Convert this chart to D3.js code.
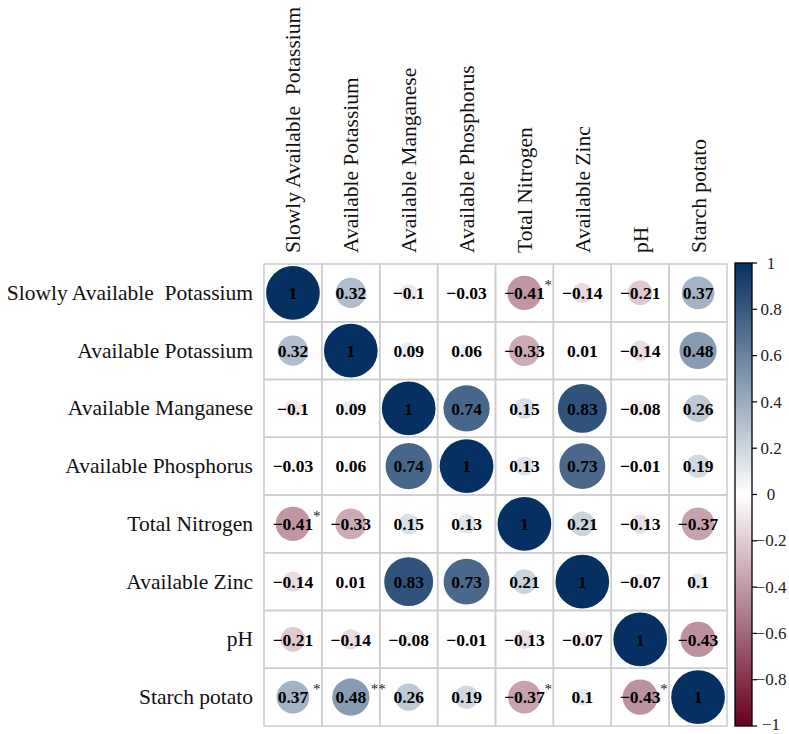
<!DOCTYPE html>
<html>
<head>
<meta charset="utf-8">
<script src="https://cdn.jsdelivr.net/npm/d3@7"></script>
<style>
  html, body { margin: 0; padding: 0; background: #fff; }
  svg { display: block; }
  text { font-family: "Liberation Serif", "Times New Roman", serif; }
</style>
</head>
<body>
<svg id="chart" width="789" height="734"></svg>
<script>
const variables = [
  "Slowly Available  Potassium",
  "Available Potassium",
  "Available Manganese",
  "Available Phosphorus",
  "Total Nitrogen",
  "Available Zinc",
  "pH",
  "Starch potato"
];
const corrSAK    = [1, 0.32, -0.1, -0.03, -0.41, -0.14, -0.21, 0.37];
const corrAK     = [0.32, 1, 0.09, 0.06, -0.33, 0.01, -0.14, 0.48];
const corrMn     = [-0.1, 0.09, 1, 0.74, 0.15, 0.83, -0.08, 0.26];
const corrP      = [-0.03, 0.06, 0.74, 1, 0.13, 0.73, -0.01, 0.19];
const corrTN     = [-0.41, -0.33, 0.15, 0.13, 1, 0.21, -0.13, -0.37];
const corrZn     = [-0.14, 0.01, 0.83, 0.73, 0.21, 1, -0.07, 0.1];
const corrPH     = [-0.21, -0.14, -0.08, -0.01, -0.13, -0.07, 1, -0.43];
const corrStarch = [0.37, 0.48, 0.26, 0.19, -0.37, 0.1, -0.43, 1];
const corrRows = [corrSAK, corrAK, corrMn, corrP, corrTN, corrZn, corrPH, corrStarch];

const starsSAK    = ["", "", "", "", "*", "", "", ""];
const starsAK     = ["", "", "", "", "", "", "", ""];
const starsMn     = ["", "", "", "", "", "", "", ""];
const starsP      = ["", "", "", "", "", "", "", ""];
const starsTN     = ["*", "", "", "", "", "", "", ""];
const starsZn     = ["", "", "", "", "", "", "", ""];
const starsPH     = ["", "", "", "", "", "", "", ""];
const starsStarch = ["*", "**", "", "", "*", "", "*", ""];
const starRows = [starsSAK, starsAK, starsMn, starsP, starsTN, starsZn, starsPH, starsStarch];

const colorbarTicks = [1, 0.8, 0.6, 0.4, 0.2, 0, -0.2, -0.4, -0.6, -0.8, -1];

const svg = d3.select("#chart");

const x = d3.scaleBand().domain(d3.range(variables.length)).range([264, 727]);
const y = d3.scaleBand().domain(d3.range(variables.length)).range([264, 726]);
const color = d3.scaleLinear().domain([-1, 0, 1]).range(["#67001F", "#FFFFFF", "#053061"]);
const rScale = d3.scaleSqrt().domain([0, 1]).range([0, 0.465 * Math.min(x.bandwidth(), y.bandwidth())]);

const cells = [];
corrRows.forEach((row, i) => row.forEach((v, j) => cells.push({i, j, v, star: starRows[i][j]})));

const fmt = v => String(v).replace("-", "\u2212");

// grid
const grid = svg.append("g");
grid.selectAll("rect").data(cells).enter().append("rect")
  .attr("x", d => x(d.j)).attr("y", d => y(d.i))
  .attr("width", x.bandwidth()).attr("height", y.bandwidth())
  .attr("fill", "none").attr("stroke", "#cccccc").attr("stroke-width", 1.5);

// circles
svg.append("g").selectAll("circle").data(cells).enter().append("circle")
  .attr("cx", d => x(d.j) + x.bandwidth() / 2)
  .attr("cy", d => y(d.i) + y.bandwidth() / 2)
  .attr("r", d => rScale(Math.abs(d.v)))
  .attr("fill", d => color(d.v));

// numbers
svg.append("g").selectAll("text").data(cells).enter().append("text")
  .attr("x", d => x(d.j) + x.bandwidth() / 2)
  .attr("y", d => y(d.i) + y.bandwidth() / 2)
  .attr("dy", "0.35em")
  .attr("text-anchor", "middle")
  .attr("font-size", 17.5).attr("font-weight", "bold").attr("fill", "#000")
  .text(d => fmt(d.v));

// stars
svg.append("g").selectAll("text").data(cells.filter(d => d.star)).enter().append("text")
  .attr("x", d => x(d.j) + x.bandwidth() / 2 + 20)
  .attr("y", d => y(d.i) + y.bandwidth() / 2 - 3)
  .attr("font-size", 15).attr("fill", "#222")
  .text(d => d.star);

// row labels
svg.append("g").selectAll("text").data(variables).enter().append("text")
  .attr("x", 253)
  .attr("y", (d, i) => y(i) + y.bandwidth() / 2)
  .attr("dy", "0.33em")
  .attr("text-anchor", "end")
  .attr("font-size", 21.5).attr("fill", "#111")
  .style("white-space", "pre")
  .text(d => d);

// column labels
svg.append("g").selectAll("text").data(variables).enter().append("text")
  .attr("transform", (d, i) => `translate(${x(i) + x.bandwidth() / 2 + 7.5},253) rotate(-90)`)
  .attr("text-anchor", "start")
  .attr("font-size", 21.5).attr("fill", "#111")
  .style("white-space", "pre")
  .text(d => d);

// colorbar
const cbX = 735, cbW = 17;
const cbY = d3.scaleLinear().domain([1, -1]).range([263, 726]);
const defs = svg.append("defs");
const grad = defs.append("linearGradient").attr("id", "cbgrad")
  .attr("x1", 0).attr("y1", 0).attr("x2", 0).attr("y2", 1);
d3.range(0, 21).forEach(k => {
  const v = 1 - k * 0.1;
  grad.append("stop").attr("offset", (k / 20)).attr("stop-color", color(v));
});
svg.append("rect")
  .attr("x", cbX).attr("y", cbY(1))
  .attr("width", cbW).attr("height", cbY(-1) - cbY(1))
  .attr("fill", "url(#cbgrad)").attr("stroke", "#000").attr("stroke-width", 1.3);

const cbAxis = svg.append("g");
cbAxis.selectAll("line").data(colorbarTicks).enter().append("line")
  .attr("x1", cbX + cbW).attr("x2", cbX + cbW + 5)
  .attr("y1", d => cbY(d)).attr("y2", d => cbY(d))
  .attr("stroke", "#000").attr("stroke-width", 1.2);
cbAxis.selectAll("text").data(colorbarTicks).enter().append("text")
  .attr("x", 771)
  .attr("y", d => cbY(d))
  .attr("dy", d => d === -1 ? "0.25em" : "0.33em")
  .attr("text-anchor", "middle")
  .attr("font-size", 17).attr("fill", "#222")
  .text(d => fmt(d));
</script>
</body>
</html>
